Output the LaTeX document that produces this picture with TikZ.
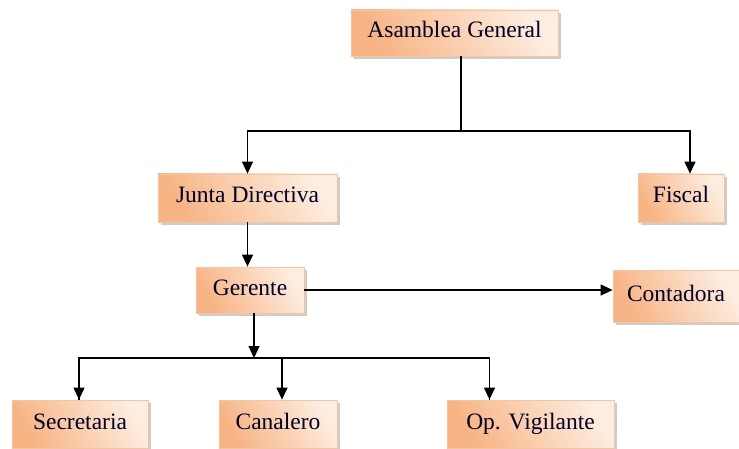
\documentclass[tikz,border=0pt]{standalone}
\usepackage{fontspec}
\setmainfont{Liberation Serif}
\usetikzlibrary{arrows.meta,shadows}
\definecolor{peachdark}{HTML}{F7B383}
\definecolor{peachlight}{HTML}{FDEDE0}
\definecolor{peachline}{HTML}{F5C5A0}
\tikzset{
  cargo/.style={draw=peachline, line width=0.8pt, left color=peachdark, right color=peachlight,
    shading angle=120, drop shadow={shadow xshift=3pt, shadow yshift=-3pt, fill=black!40},
    font=\fontsize{23.5}{27}\selectfont, text=black!85!blue, inner sep=0pt,
    text height=16pt, text depth=6pt},
  flecha/.style={line width=1.3pt, -{Triangle[width=11pt,length=12pt]}},
  linea/.style={line width=1.3pt}
}
\begin{document}
\begin{tikzpicture}[x=1pt,y=-1pt]
\useasboundingbox (0,0) rectangle (739,449);
% niveles superiores
\node[cargo, minimum width=207, minimum height=46] (asamblea) at (454.5,33) {Asamblea General};
\node[cargo, minimum width=179, minimum height=48] (junta) at (247.5,198) {Junta Directiva};
\node[cargo, minimum width=86, minimum height=48] (fiscal) at (681,198) {Fiscal};
% gerencia
\node[cargo, minimum width=108, minimum height=46] (gerente) at (250,290) {Gerente};
\node[cargo, minimum width=126, minimum height=52] (contadora) at (676,296) {Contadora};
% personal
\node[cargo, minimum width=136, minimum height=48] (secretaria) at (80,424) {Secretaria};
\node[cargo, minimum width=118, minimum height=48] (canalero) at (278,424) {Canalero};
\node[cargo, minimum width=167, minimum height=48] (vigilante) at (530.5,424) {Op. Vigilante};

\coordinate (ramaA) at (461,131);
\coordinate (ramaB) at (254,358);

\draw[linea] (asamblea.south -| ramaA) -- (ramaA);
\draw[flecha] (ramaA) -| (junta.north);
\draw[flecha] (ramaA) -| ([xshift=9]fiscal.north);
\draw[flecha] (junta.south) -- (junta.south |- gerente.north);
\draw[flecha] (gerente.east) -- (gerente.east -| contadora.west);
\draw[flecha] ([xshift=4]gerente.south) -- (ramaB);
\draw[linea] (ramaB) -| ([xshift=-1]secretaria.north);
\draw[linea] (ramaB) -| ([xshift=-41]vigilante.north);
\draw[flecha] ([xshift=-1]secretaria.north |- ramaB) -- ([xshift=-1]secretaria.north);
\draw[flecha] ([xshift=4]canalero.north |- ramaB) -- ([xshift=4]canalero.north);
\draw[flecha] ([xshift=-41]vigilante.north |- ramaB) -- ([xshift=-41]vigilante.north);
\end{tikzpicture}
\end{document}
